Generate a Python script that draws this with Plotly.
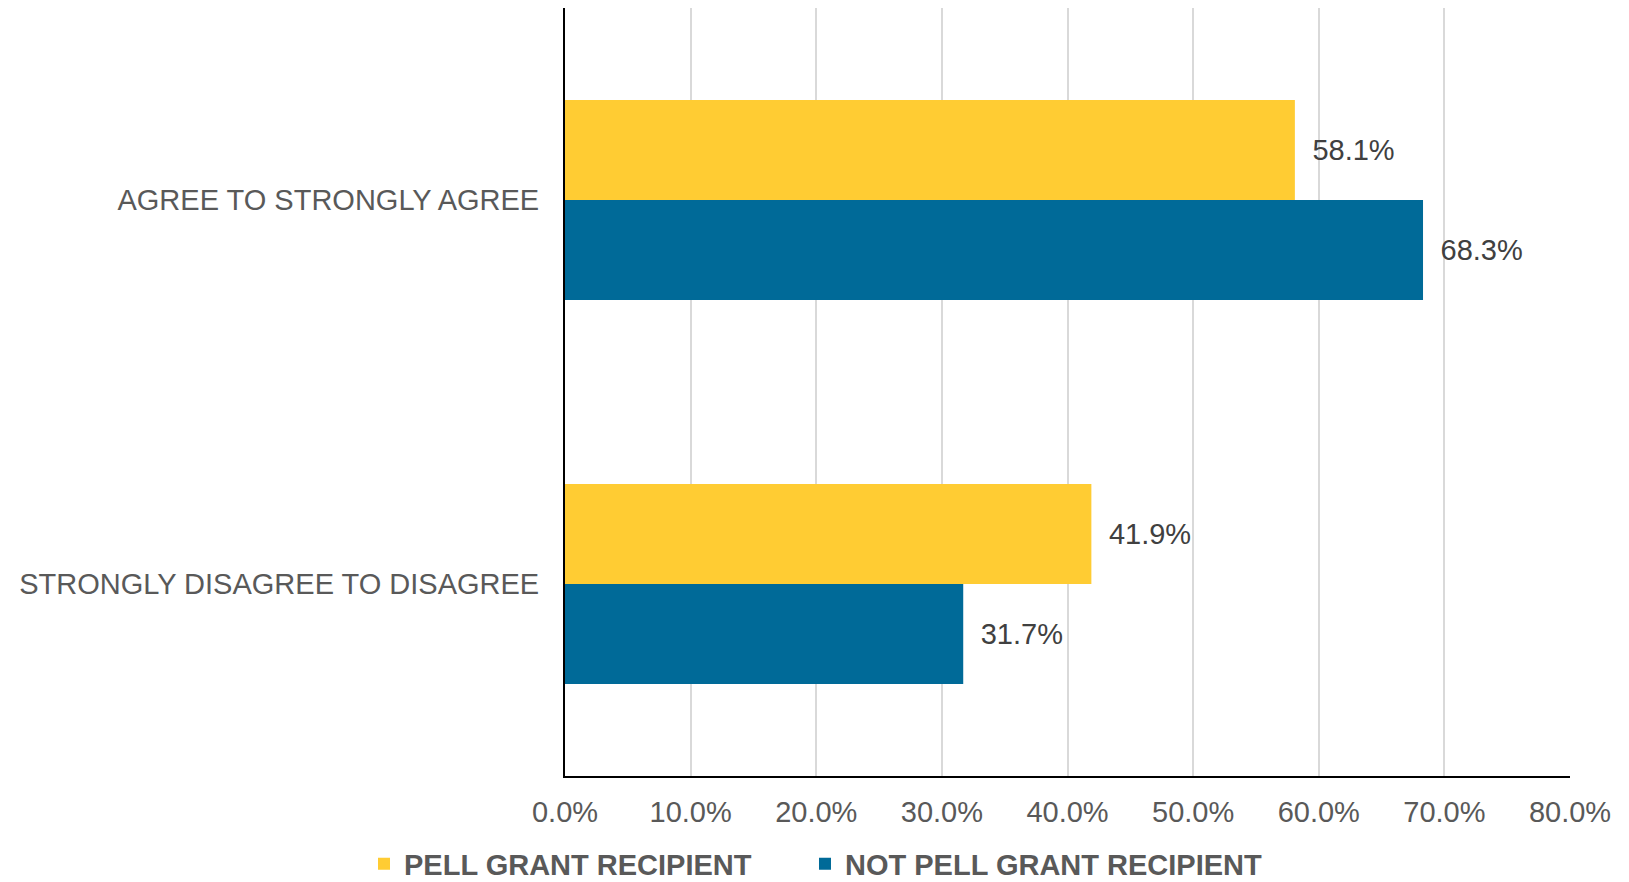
import plotly.graph_objects as go

categories = ["AGREE TO STRONGLY AGREE", "STRONGLY DISAGREE TO DISAGREE"]
series_names = ["PELL GRANT RECIPIENT", "NOT PELL GRANT RECIPIENT"]
pell = [58.1, 41.9]
not_pell = [68.3, 31.7]
colors = ["#FFCC33", "#006A98"]
tick_vals = [0, 10, 20, 30, 40, 50, 60, 70, 80]
tick_text = [f"{v:.1f}%" for v in tick_vals]

FONT = "Liberation Sans, Arial, sans-serif"
legend_ids = ["legend", "legend2"]

fig = go.Figure()
for name, vals, col, lg in zip(series_names, [pell, not_pell], colors, legend_ids):
    fig.add_trace(go.Bar(
        name=name,
        y=categories,
        x=vals,
        orientation="h",
        marker=dict(color=col, line=dict(width=0)),
        text=["\u2002" + f"{v:.1f}%" for v in vals],
        textposition="outside",
        textfont=dict(family=FONT, size=29, color="#404040"),
        cliponaxis=False,
        legend=lg,
    ))

legend_font = dict(family=FONT, size=29, color="#595959", weight="bold")
fig.update_layout(
    width=1629, height=882,
    barmode="group",
    bargap=0.479,
    bargroupgap=0,
    plot_bgcolor="white",
    paper_bgcolor="white",
    margin=dict(l=565, r=59, t=8, b=106, autoexpand=False),
    font=dict(family=FONT, color="#595959"),
    showlegend=True,
    legend=dict(
        orientation="h",
        x=-0.200, xanchor="left",
        y=-0.1146, yanchor="middle",
        font=legend_font,
        itemwidth=30,
        bgcolor="rgba(0,0,0,0)",
    ),
    legend2=dict(
        orientation="h",
        x=0.2388, xanchor="left",
        y=-0.1146, yanchor="middle",
        font=legend_font,
        itemwidth=30,
        bgcolor="rgba(0,0,0,0)",
    ),
    xaxis=dict(
        range=[0, 80],
        tickvals=tick_vals,
        ticktext=tick_text,
        tickfont=dict(family=FONT, size=29, color="#595959"),
        showgrid=True,
        gridcolor="#D9D9D9",
        gridwidth=2,
        showline=True,
        linecolor="#000000",
        linewidth=2,
        zeroline=False,
        ticks="",
        ticklabelstandoff=9,
        fixedrange=True,
    ),
    yaxis=dict(
        autorange="reversed",
        tickfont=dict(family=FONT, size=29, color="#595959"),
        showline=True,
        linecolor="#000000",
        linewidth=2,
        showgrid=False,
        ticks="",
        ticklabelstandoff=18,
        fixedrange=True,
    ),
)

fig.write_html(
    "out.html",
    config={"displayModeBar": False},
    post_script="document.body.style.margin='0';document.body.style.overflow='hidden';",
)
